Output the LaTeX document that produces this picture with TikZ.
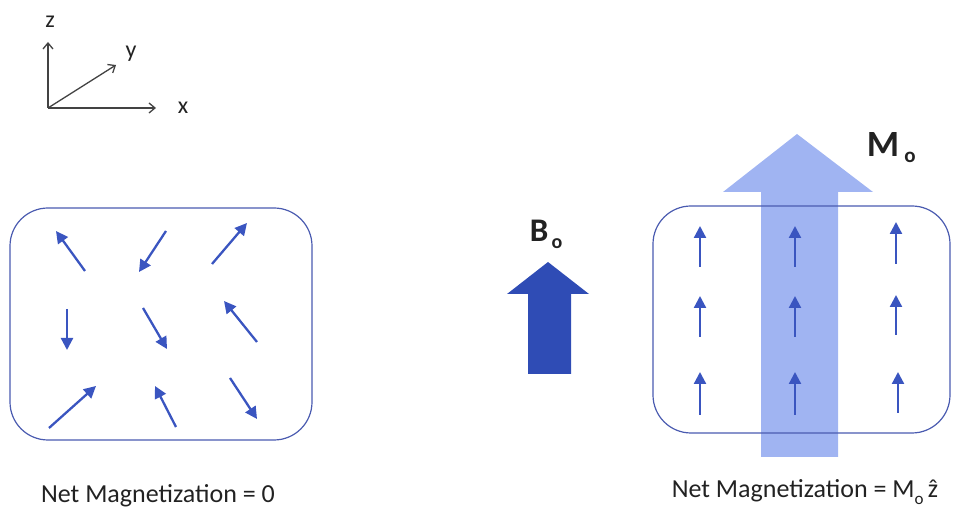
\documentclass[tikz,border=0pt]{standalone}
\usepackage{fontspec}
\setmainfont{Carlito}
\usetikzlibrary{arrows.meta}
\definecolor{spincol}{HTML}{3A55C0}
\definecolor{boxcol}{HTML}{4A5BB0}
\definecolor{fieldcol}{HTML}{2F4CB5}
\definecolor{magcol}{HTML}{A0B4F2}
\definecolor{inkcol}{HTML}{222222}
\tikzset{
  spin/.style={draw=spincol, line width=2.3pt, -{Triangle[length=12pt,width=12pt]}},
  axis/.style={draw=inkcol!85, line width=1.3pt, -{Straight Barb[length=6pt,width=10pt]}},
  sample/.style={draw=boxcol, line width=1.2pt, rounded corners=38pt},
  axlabel/.style={text=inkcol, font=\fontsize{24}{26}\selectfont, inner sep=0pt},
  caption/.style={text=inkcol, font=\fontsize{26}{28}\selectfont, inner sep=0pt},
  biglabel/.style={text=inkcol, inner sep=0pt, font=\bfseries}
}
\begin{document}
\begin{tikzpicture}[x=1pt,y=-1pt]
\useasboundingbox (0,0) rectangle (954,510);

% coordinate axes
\coordinate (O) at (48,108);
\coordinate (Z) at (48,42);
\coordinate (X) at (156,108);
\coordinate (Y) at (116,65);
\draw[axis] (O) -- (Z);
\draw[axis] (O) -- (X);
\draw[axis] (O) -- (Y);
\node[axlabel] (zl) at (50,22) {z};
\node[axlabel] (yl) at (131,54) {y};
\node[axlabel] (xl) at (183,108) {x};

% unaligned sample
\draw[sample] (10,208) rectangle (312,440);
\draw[spin] (85,271) -- (56,231);
\draw[spin] (166,231) -- (139,272);
\draw[spin] (212,264) -- (247,223);
\draw[spin] (67,309) -- (67,350);
\draw[spin] (143,308) -- (167,349);
\draw[spin] (257,342) -- (224,301);
\draw[spin] (49,428) -- (96,386);
\draw[spin] (176,427) -- (155,386);
\draw[spin] (230,378) -- (257,419);

% applied field
\fill[fieldcol] (528,374) -- (528,294) -- (507,294) -- (548,262) -- (589,294)
  -- (571,294) -- (571,374) -- cycle;
\node[biglabel, font=\bfseries\fontsize{33}{35}\selectfont] (bl) at (539,231) {B};
\node[biglabel, font=\bfseries\fontsize{20}{22}\selectfont] (bs) at (557,244) {o};

% net magnetization arrow
\fill[magcol] (761,457) -- (761,192) -- (723,192) -- (797,134) -- (873,192)
  -- (838,192) -- (838,457) -- cycle;
\node[biglabel, font=\bfseries\fontsize{37}{39}\selectfont] (ml) at (883,145) {M};
\node[biglabel, font=\bfseries\fontsize{21}{23}\selectfont] (ms) at (910,157) {o};

% aligned sample
\draw[sample] (653,206) rectangle (950,433);
\foreach \cx/\t/\b in {700/226/267, 795/226/267, 896/222/264,
                        700/296/337, 795/296/337, 896/295/335,
                        700/372/415, 795/372/415, 898/372/413}
  \draw[spin] (\cx,\b) -- (\cx,\t);

% captions
\node[caption] (c1) at (158,496) {Net Magnetization = 0};
\node[caption] (c2) at (805,492) {Net Magnetization = M\raisebox{-0.25em}{\fontsize{17}{17}\selectfont o}\,ẑ};
\end{tikzpicture}
\end{document}
